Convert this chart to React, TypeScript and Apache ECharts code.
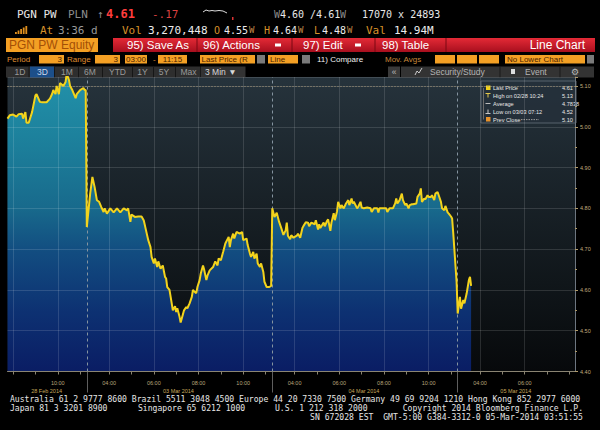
import React, { useEffect, useRef } from "react";
import * as echarts from "echarts";

// ---- sessions (trading days shown on the 3-min chart) ----
const sessions = [
  { key: "02-28", date: "28 Feb 2014", start: "07:45", end: "11:15" },
  { key: "03-03", date: "03 Mar 2014", start: "03:00", end: "11:15" },
  { key: "03-04", date: "04 Mar 2014", start: "03:00", end: "11:15" },
  { key: "03-05", date: "05 Mar 2014", start: "03:00", end: "08:15" },
];
const STEP_MIN = 3;

// ---- price readings (time, last price) ----
const priceFeb28: [string, number][] = [
  ["07:45", 5.02], ["07:51", 5.028], ["08:00", 5.03], ["08:09", 5.025], ["08:15", 5.031], ["08:24", 5.032],
  ["08:27", 5.02], ["08:33", 5.036], ["08:36", 5.01], ["08:42", 5.01], ["08:51", 5.036], ["09:00", 5.077],
  ["09:03", 5.08], ["09:12", 5.061], ["09:18", 5.06], ["09:30", 5.06], ["09:39", 5.069], ["09:45", 5.081],
  ["09:48", 5.09], ["09:54", 5.08], ["09:57", 5.1], ["10:03", 5.08], ["10:06", 5.107], ["10:15", 5.1],
  ["10:21", 5.11], ["10:24", 5.13], ["10:30", 5.115], ["10:33", 5.1], ["10:39", 5.09], ["10:48", 5.07],
  ["10:51", 5.08], ["11:00", 5.09], ["11:09", 5.095], ["11:12", 5.09], ["11:15", 5.09],
];
const priceMar03: [string, number][] = [
  ["03:00", 4.754], ["03:09", 4.836], ["03:15", 4.877], ["03:21", 4.852], ["03:27", 4.82], ["03:33", 4.816],
  ["03:39", 4.803], ["03:45", 4.791], ["03:48", 4.8], ["03:54", 4.787], ["04:03", 4.8], ["04:12", 4.79],
  ["04:21", 4.8], ["04:30", 4.79], ["04:39", 4.8], ["04:48", 4.795], ["04:51", 4.8], ["04:57", 4.767],
  ["05:00", 4.785], ["05:09", 4.779], ["05:18", 4.78], ["05:27", 4.78], ["05:33", 4.77], ["05:39", 4.746],
  ["05:45", 4.722], ["05:51", 4.705], ["05:54", 4.681], ["06:00", 4.665], ["06:03", 4.677], ["06:09", 4.656],
  ["06:12", 4.67], ["06:18", 4.652], ["06:24", 4.66], ["06:30", 4.632], ["06:33", 4.628], ["06:36", 4.607],
  ["06:42", 4.6], ["06:48", 4.567], ["06:51", 4.55], ["06:57", 4.56], ["07:00", 4.546], ["07:03", 4.555],
  ["07:09", 4.534], ["07:12", 4.52], ["07:18", 4.54], ["07:21", 4.55], ["07:27", 4.558], ["07:30", 4.555],
  ["07:36", 4.567], ["07:42", 4.583], ["07:45", 4.6], ["07:48", 4.597], ["07:54", 4.592], ["07:57", 4.607],
  ["08:03", 4.624], ["08:06", 4.64], ["08:12", 4.66], ["08:15", 4.65], ["08:21", 4.624], ["08:24", 4.635],
  ["08:30", 4.648], ["08:39", 4.656], ["08:45", 4.67], ["08:51", 4.66], ["08:54", 4.677], ["09:00", 4.673],
  ["09:06", 4.693], ["09:12", 4.714], ["09:21", 4.73], ["09:24", 4.705], ["09:27", 4.722], ["09:33", 4.738],
  ["09:36", 4.726], ["09:42", 4.742], ["09:51", 4.738], ["09:57", 4.742], ["10:00", 4.722], ["10:09", 4.726],
  ["10:12", 4.71], ["10:18", 4.689], ["10:21", 4.681], ["10:27", 4.693], ["10:30", 4.677], ["10:36", 4.689],
  ["10:39", 4.665], ["10:45", 4.656], ["10:48", 4.665], ["10:54", 4.644], ["10:57", 4.62], ["11:03", 4.607],
  ["11:09", 4.607], ["11:15", 4.61],
];
const priceMar04: [string, number][] = [
  ["03:00", 4.8], ["03:06", 4.779], ["03:12", 4.789], ["03:18", 4.768], ["03:24", 4.752], ["03:30", 4.735],
  ["03:36", 4.746], ["03:39", 4.765], ["03:42", 4.733], ["03:48", 4.724], ["03:51", 4.734], ["03:57", 4.728],
  ["04:06", 4.733], ["04:09", 4.738], ["04:15", 4.728], ["04:21", 4.752], ["04:24", 4.757], ["04:30", 4.766],
  ["04:36", 4.765], ["04:39", 4.756], ["04:45", 4.765], ["04:54", 4.761], ["04:57", 4.771], ["05:03", 4.748],
  ["05:06", 4.761], ["05:09", 4.752], ["05:18", 4.765], ["05:21", 4.756], ["05:27", 4.769], ["05:30", 4.773],
  ["05:36", 4.745], ["05:39", 4.765], ["05:45", 4.788], ["05:48", 4.771], ["05:54", 4.793], ["05:57", 4.816],
  ["06:03", 4.8], ["06:06", 4.808], ["06:12", 4.8], ["06:18", 4.812], ["06:24", 4.82], ["06:27", 4.808],
  ["06:33", 4.824], ["06:36", 4.812], ["06:39", 4.816], ["06:48", 4.8], ["06:51", 4.804], ["06:57", 4.816],
  ["07:00", 4.802], ["07:06", 4.8], ["07:15", 4.802], ["07:24", 4.8], ["07:27", 4.791], ["07:33", 4.8],
  ["07:42", 4.8], ["07:45", 4.79], ["07:48", 4.8], ["07:57", 4.8], ["08:06", 4.8], ["08:09", 4.791],
  ["08:15", 4.8], ["08:24", 4.8], ["08:30", 4.812], ["08:33", 4.824], ["08:36", 4.812], ["08:42", 4.82],
  ["08:48", 4.836], ["08:51", 4.82], ["08:57", 4.808], ["09:00", 4.812], ["09:06", 4.8], ["09:09", 4.808],
  ["09:15", 4.81], ["09:18", 4.81], ["09:27", 4.812], ["09:30", 4.828], ["09:36", 4.836], ["09:39", 4.849],
  ["09:42", 4.816], ["09:48", 4.824], ["09:51", 4.822], ["09:57", 4.832], ["10:00", 4.828], ["10:06", 4.828],
  ["10:09", 4.832], ["10:15", 4.82], ["10:18", 4.836], ["10:24", 4.84], ["10:27", 4.832], ["10:33", 4.816],
  ["10:36", 4.8], ["10:42", 4.795], ["10:45", 4.806], ["10:51", 4.79], ["10:54", 4.787], ["11:00", 4.78],
  ["11:03", 4.775], ["11:06", 4.74], ["11:09", 4.7], ["11:12", 4.66], ["11:15", 4.62],
];
const priceMar05: [string, number][] = [
  ["03:00", 4.542], ["03:06", 4.583], ["03:09", 4.554], ["03:15", 4.575], ["03:18", 4.567], ["03:24", 4.591],
  ["03:30", 4.624], ["03:33", 4.632], ["03:36", 4.61],
];
const dayPrices = [priceFeb28, priceMar03, priceMar04, priceMar05];

// ---- axis settings ----
const yMin = 4.4;
const yMax = 5.122;
const yStep = 0.1;
const timeLabelHours = ["04:00", "06:00", "08:00", "10:00"];
const lastPrice = 4.61;
const prevClose = 5.1;

// ---- legend box rows ----
const legendLabels = ["Last Price", "High on 02/28 10:24", "Average", "Low on 03/03 07:12", "Prev Close"];
const legendValues = ["4.61", "5.13", "4.7838", "4.52", "5.10"];

// ---- header / footer text ----
const footer1 = "Australia 61 2 9777 8600 Brazil 5511 3048 4500 Europe 44 20 7330 7500 Germany 49 69 9204 1210 Hong Kong 852 2977 6000";
const footer2a = "Japan 81 3 3201 8900";
const footer2b = "Singapore 65 6212 1000";
const footer2c = "U.S. 1 212 318 2000";
const footer2d = "Copyright 2014 Bloomberg Finance L.P.";
const footer3 = "SN 672028 EST  GMT-5:00 G384-3312-0 05-Mar-2014 03:51:55";

const toMin = (s: string) => parseInt(s.slice(0, 2), 10) * 60 + parseInt(s.slice(3), 10);
const fmt = (m: number) => String(Math.floor(m / 60)).padStart(2, "0") + ":" + String(m % 60).padStart(2, "0");

const categories: string[] = [];
const dayStartIdx: number[] = [];
const dayMidIdx: number[] = [];
sessions.forEach((s) => {
  const first = categories.length;
  for (let m = toMin(s.start); m <= toMin(s.end); m += STEP_MIN) categories.push(`${s.key} ${fmt(m)}`);
  const last = categories.length - 1;
  dayStartIdx.push(first);
  dayMidIdx.push(Math.floor((first + last) / 2));
});
const N = categories.length;
const seriesData = sessions.flatMap((s, i) => dayPrices[i].map(([t, v]) => [`${s.key} ${t}`, v]));

const MONO = '"DejaVu Sans Mono", monospace';
const SANS = '"Liberation Sans", Arial, sans-serif';

const T = (x: number, y: number, text: string, fill: string, font: string, align = "left") => ({
  type: "text",
  silent: true,
  style: { x, y, text, fill, font, textAlign: align, align, textVerticalAlign: "middle", verticalAlign: "middle" },
});
const R = (x: number, y: number, w: number, h: number, fill: any, stroke?: string) => ({
  type: "rect",
  silent: true,
  shape: { x, y, width: w, height: h },
  style: { fill, stroke: stroke || null, lineWidth: stroke ? 1 : 0 },
});
const L = (x1: number, y1: number, x2: number, y2: number, stroke: string, dash?: number[]) => ({
  type: "line",
  silent: true,
  shape: { x1, y1, x2, y2 },
  style: { stroke, lineWidth: 1, lineDash: dash || null },
});

function buildGraphic() {
  const ORANGE = "#f4a024";
  const DARK = "#4a2200";
  const g: any[] = [];
  // Row 1
  g.push(T(17, 14, "PGN PW", "#e8e8e8", `11px ${MONO}`));
  g.push(T(68, 14, "PLN", "#8c8c8c", `11px ${MONO}`));
  g.push(T(97, 14, "↑", "#8c8c8c", `11px ${MONO}`));
  g.push(T(106, 14, "4.61", "#ff3d3d", `bold 12px ${MONO}`));
  g.push(T(152, 14, "-.17", "#d94040", `11px ${MONO}`));
  g.push({
    type: "polyline", silent: true,
    shape: { points: [[203, 12], [206, 10], [209, 11], [212, 10.5], [215, 11], [219, 10.5], [223, 11], [227, 13]] },
    style: { stroke: "#dddddd", lineWidth: 1, fill: null },
  });
  g.push(R(232, 17, 1.5, 3, "#d33"));
  g.push(T(274, 14, "W", "#8c8c8c", `10px ${MONO}`));
  g.push(T(280, 14, "4.60 /4.61", "#e8e8e8", `10px ${MONO}`));
  g.push(T(340, 14, "W", "#8c8c8c", `10px ${MONO}`));
  g.push(T(362, 14, "17070 x 24893", "#e8e8e8", `10px ${MONO}`));
  // Row 2
  [2, 3.5, 5, 6.5, 8].forEach((h, i) => g.push(R(15 + i * 2.6, 34 - h, 1.8, h, "#e0901e")));
  g.push(T(40, 30, "At", "#d8922a", `11px ${MONO}`));
  g.push(T(58, 30, "3:36 d", "#9a9a9a", `11px ${MONO}`));
  g.push(T(122, 30, "Vol", "#d8922a", `11px ${MONO}`));
  g.push(T(148, 30, "3,270,448", "#ececec", `11px ${MONO}`));
  g.push(T(214, 30, "O", "#d8922a", `10px ${MONO}`));
  g.push(T(224, 30, "4.55", "#ececec", `10px ${MONO}`));
  g.push(T(249, 30, "W", "#c08a4a", `9px ${MONO}`));
  g.push(T(264, 30, "H", "#d8922a", `10px ${MONO}`));
  g.push(T(273, 30, "4.64", "#ececec", `10px ${MONO}`));
  g.push(T(298, 30, "W", "#c08a4a", `9px ${MONO}`));
  g.push(T(314, 30, "L", "#d8922a", `10px ${MONO}`));
  g.push(T(322, 30, "4.48", "#ececec", `10px ${MONO}`));
  g.push(T(347, 30, "W", "#c08a4a", `9px ${MONO}`));
  g.push(T(366, 30, "Val", "#d8922a", `11px ${MONO}`));
  g.push(T(394, 30, "14.94M", "#ececec", `11px ${MONO}`));
  // Row 3 (red bar)
  g.push(R(6, 38, 92, 14, ORANGE));
  g.push(T(9, 45, "PGN PW Equity", "#a34f06", `12px ${SANS}`));
  g.push(
    R(113, 38, 482, 14, new echarts.graphic.LinearGradient(0, 0, 0, 1, [
      { offset: 0, color: "#e42a36" },
      { offset: 1, color: "#a80f1e" },
    ]))
  );
  [197, 292, 375, 446].forEach((x) => g.push(L(x, 38, x, 52, "#7a0812")));
  g.push(T(127, 45, "95) Save As", "#ffffff", `11.5px ${SANS}`));
  g.push(T(203, 45, "96) Actions", "#ffffff", `11.5px ${SANS}`));
  g.push(R(275, 43.5, 6, 3, "#ffffff"));
  g.push(T(303, 45, "97) Edit", "#ffffff", `11.5px ${SANS}`));
  g.push(R(355, 43.5, 6, 3, "#ffffff"));
  g.push(T(382, 45, "98) Table", "#ffffff", `11.5px ${SANS}`));
  g.push(T(585, 45, "Line Chart", "#ffffff", `12px ${SANS}`, "right"));
  // Row 4
  const f8 = `8px ${SANS}`;
  g.push(T(7, 59.3, "Period", "#e09030", f8));
  g.push(R(39, 55, 25, 8.5, ORANGE));
  g.push(T(62, 59.3, "3", DARK, f8, "right"));
  g.push(T(67, 59.3, "Range", "#e09030", f8));
  g.push(R(95, 55, 25, 8.5, ORANGE));
  g.push(T(118, 59.3, "3", DARK, f8, "right"));
  g.push(R(125, 55, 22, 8.5, ORANGE));
  g.push(T(136, 59.3, "03:00", DARK, f8, "center"));
  g.push(T(153, 59.3, "-", "#e09030", f8));
  g.push(R(158, 55, 29, 8.5, ORANGE));
  g.push(T(172.5, 59.3, "11:15", DARK, f8, "center"));
  g.push(R(200, 55, 55, 8.5, ORANGE));
  g.push(T(201.5, 59.3, "Last Price (R", DARK, f8));
  g.push(R(257, 55, 8, 8.5, "#7a7a7a"));
  g.push(R(268, 55, 30, 8.5, ORANGE));
  g.push(T(270, 59.3, "Line", DARK, f8));
  g.push(R(302, 55, 8, 8.5, "#7a7a7a"));
  g.push(T(317, 59.3, "11) Compare", "#f0f0f0", f8));
  g.push(T(385, 59.3, "Mov. Avgs", "#c8883a", f8));
  [435, 457, 479].forEach((x) => g.push(R(x, 55, 20, 8.5, ORANGE)));
  g.push(R(505, 55, 80, 8.5, ORANGE));
  g.push(T(507, 59.3, "No Lower Chart", DARK, f8));
  g.push(R(587, 55, 7, 8.5, "#7a7a7a"));
  // Row 5
  const f85 = `8.5px ${SANS}`;
  g.push(R(6, 66.5, 194, 11, "#2e2e2e"));
  [29, 54.5, 78.5, 102.5, 132.5, 153.5, 175.5].forEach((x) => g.push(L(x, 66.5, x, 77.5, "#161616")));
  g.push(R(30, 66.5, 24, 11, "#1c4f8a"));
  const btns: [number, string][] = [[20, "1D"], [42.5, "3D"], [67, "1M"], [90, "6M"], [117.5, "YTD"], [142.5, "1Y"], [164, "5Y"], [188.5, "Max"]];
  btns.forEach(([x, t]) => g.push(T(x, 72.3, t, t === "3D" ? "#d0d8e8" : "#9a9a9a", f85, "center")));
  g.push(R(200.5, 66.5, 45, 11, "#333333"));
  g.push(T(205, 72.3, "3 Min ▼", "#d8d8d8", f85));
  g.push(R(388, 66.5, 12, 11, "#3a3a3a"));
  g.push(T(394, 72, "«", "#bbbbbb", f85, "center"));
  g.push(R(401, 66.5, 193, 11, "#333333"));
  g.push({
    type: "polyline", silent: true,
    shape: { points: [[415, 75], [417, 71], [419, 73], [422, 68]] },
    style: { stroke: "#cccccc", lineWidth: 1, fill: null },
  });
  g.push(T(430, 72.3, "Security/Study", "#b4b4b4", f85));
  g.push(L(500, 66.5, 500, 77.5, "#1a1a1a"));
  g.push(R(511, 69, 4, 5, "#dddddd"));
  g.push(T(525, 72.3, "Event", "#b4b4b4", f85));
  g.push(L(560, 66.5, 560, 77.5, "#1a1a1a"));
  g.push(T(575, 72, "⚙", "#bbbbbb", `9px "DejaVu Sans", sans-serif`, "center"));
  // Legend box
  g.push(R(481, 81, 95, 42, "rgba(36,48,58,0.88)", "#56626c"));
  g.push(L(483.5, 88, 483.5, 119.5, "#6a6a6a"));
  g.push(R(486, 85.5, 4.5, 4.5, "#f2d21a"));
  g.push(L(485.5, 93.5, 490.5, 93.5, "#e6c84a"));
  g.push(L(488, 93.5, 488, 97.5, "#e6c84a"));
  g.push(L(485.5, 103.5, 490.5, 103.5, "#bbbbbb"));
  g.push(L(488, 109.5, 488, 113.5, "#c8c8c8"));
  g.push(L(485.5, 113.5, 490.5, 113.5, "#c8c8c8"));
  g.push(R(486, 117, 4.5, 4.5, "#e8922a"));
  legendLabels.forEach((t, i) => {
    g.push(T(493, 88 + i * 7.9, t, "#e6e6e6", `5.6px ${SANS}`));
    g.push(T(562, 88 + i * 7.9, legendValues[i], "#e6e6e6", `5.6px ${SANS}`));
  });
  g.push(L(521, 119.6, 539, 119.6, "#9a9a9a", [1.5, 1]));
  // Footer
  const ff = `8.1px ${MONO}`;
  g.push(T(10, 399, footer1, "#e6e6e6", ff));
  g.push(T(10, 408, footer2a, "#e6e6e6", ff));
  g.push(T(138, 408, footer2b, "#e6e6e6", ff));
  g.push(T(275, 408, footer2c, "#e6e6e6", ff));
  g.push(T(583, 408, footer2d, "#e6e6e6", ff, "right"));
  g.push(T(583, 417, footer3, "#e6e6e6", ff, "right"));
  return g;
}

const hhmm = (v: string) => v.slice(6);
const showTimeLabel = (i: number, v: string) => timeLabelHours.includes(hhmm(v)) && i >= 10 && i <= N - 16;
const showGrid = (i: number, v: string) => timeLabelHours.includes(hhmm(v)) && i <= N - 16;

export default function App() {
  const ref = useRef<HTMLDivElement>(null);
  useEffect(() => {
    if (!ref.current) return;
    const chart = echarts.init(ref.current, null, { renderer: "svg" });
    const gridLine = "rgba(255,255,255,0.13)";
    const option: any = {
      animation: false,
      backgroundColor: "#000000",
      grid: {
        left: 7.5, right: 25, top: 77, bottom: 58.5, show: true, borderWidth: 0,
        backgroundColor: new echarts.graphic.LinearGradient(0, 0, 0, 1, [
          { offset: 0, color: "#26333c" },
          { offset: 0.3, color: "#1c262d" },
          { offset: 0.7, color: "#10161a" },
          { offset: 1, color: "#07090b" },
        ]),
      },
      xAxis: [
        {
          type: "category", data: categories, boundaryGap: false, position: "bottom", z: 3,
          axisLine: { show: true, lineStyle: { color: "#8a8472", width: 1 } },
          axisTick: { show: true, length: 3, interval: (i: number, v: string) => v.endsWith(":00"), lineStyle: { color: "#8a8472" } },
          axisLabel: {
            interval: showTimeLabel, formatter: (v: string) => hhmm(v),
            color: "#b8a57a", fontSize: 5.5, fontFamily: "Liberation Sans", margin: 8, hideOverlap: false,
          },
          splitLine: { show: true, interval: showGrid, lineStyle: { color: gridLine, width: 1 } },
        },
        {
          type: "category", data: categories, boundaryGap: false, position: "bottom", z: 3,
          axisLine: { show: false },
          axisTick: { show: true, length: 21, interval: (i: number) => dayStartIdx.slice(1).includes(i), lineStyle: { color: "#5e5e5e" } },
          axisLabel: {
            interval: (i: number) => dayMidIdx.includes(i),
            formatter: (v: string) => (sessions.find((s) => s.key === v.slice(0, 5)) || { date: "" }).date,
            color: "#c8a85a", fontSize: 5.5, fontFamily: "Liberation Sans", margin: 16, hideOverlap: false,
          },
          splitLine: { show: false },
        },
      ],
      yAxis: {
        type: "value", position: "right", min: yMin, max: yMax, interval: yStep, z: 3,
        axisLine: { show: true, lineStyle: { color: "#6d7680" } },
        axisTick: { show: true, length: 3, lineStyle: { color: "#b09a6a" } },
        minorTick: { show: true, splitNumber: 2, length: 2, lineStyle: { color: "#b09a6a" } },
        axisLabel: {
          color: "#c2ad7e", fontSize: 5.5, fontFamily: "Liberation Sans", margin: 5,
          showMaxLabel: false, formatter: (v: number) => v.toFixed(2),
        },
        splitLine: { show: true, lineStyle: { color: gridLine, width: 1 } },
      },
      series: [
        {
          type: "line", data: seriesData, symbol: "none", showSymbol: false, silent: true, z: 1,
          lineStyle: { width: 0 },
          areaStyle: {
            opacity: 1,
            color: new echarts.graphic.LinearGradient(0, 0, 0, 1, [
              { offset: 0, color: "#2292aa" },
              { offset: 0.25, color: "#1c7e9a" },
              { offset: 0.45, color: "#186a8c" },
              { offset: 0.6, color: "#124c80" },
              { offset: 0.8, color: "#0d3172" },
              { offset: 1, color: "#0a1d64" },
            ]),
          },
        },
        {
          type: "line", data: seriesData, symbol: "none", showSymbol: false, silent: true, z: 5,
          lineStyle: { color: "#f3d31c", width: 2 },
          markLine: {
            silent: true, symbol: ["none", "none"], animation: false,
            label: { show: false },
            data: [
              ...dayStartIdx.slice(1).map((i) => ({
                xAxis: categories[i],
                lineStyle: { color: "#8594a0", type: [3, 3], width: 1 },
              })),
              { yAxis: prevClose, lineStyle: { color: "#a89878", type: [1, 2], width: 1 } },
              {
                yAxis: lastPrice,
                lineStyle: { opacity: 0 },
                label: {
                  show: true, position: "end", distance: 3, formatter: lastPrice.toFixed(2),
                  backgroundColor: "#f2d21a", color: "#000000", fontSize: 5.5, fontFamily: "Liberation Sans",
                  padding: [1, 2],
                },
              },
            ],
          },
        },
      ],
      graphic: buildGraphic(),
    };
    chart.setOption(option);
    return () => chart.dispose();
  }, []);
  return (
    <div
      ref={ref}
      style={{ position: "fixed", left: 0, top: 0, width: 600, height: 430, background: "#000" }}
    />
  );
}
